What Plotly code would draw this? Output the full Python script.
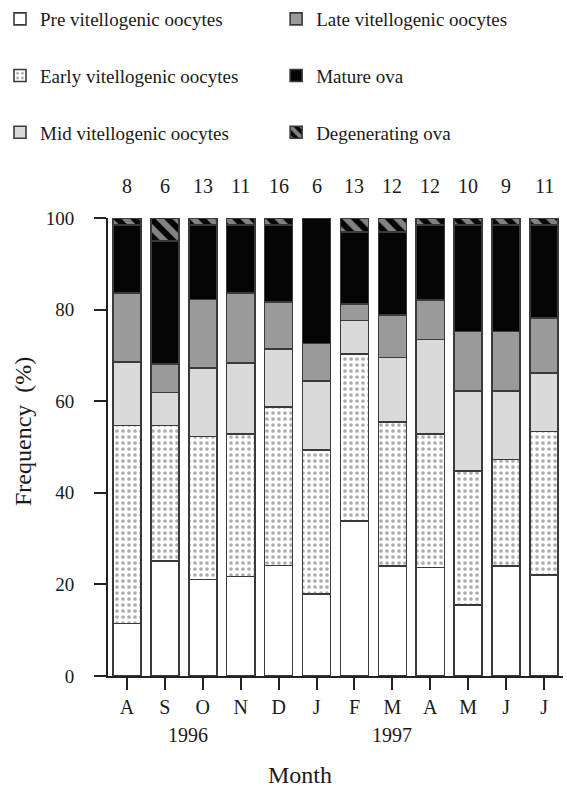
import plotly.graph_objects as go

months = ["A", "S", "O", "N", "D", "J", "F", "M", "A", "M", "J", "J"]
counts = [8, 6, 13, 11, 16, 6, 13, 12, 12, 10, 9, 11]
years = ["1996", "1997"]
year_pos = [1.6, 7.0]

pre = [11.5, 25.1, 21.1, 21.7, 24.1, 17.9, 33.8, 24.0, 23.7, 15.5, 24.0, 22.0]
early = [43.2, 29.6, 31.2, 31.1, 34.7, 31.4, 36.5, 31.5, 29.1, 29.3, 23.3, 31.4]
mid = [13.8, 7.2, 15.0, 15.5, 12.6, 15.1, 7.3, 14.0, 20.7, 17.4, 14.9, 12.7]
late = [15.1, 6.2, 14.9, 15.3, 10.3, 8.2, 3.6, 9.3, 8.6, 13.0, 13.0, 12.1]
mature = [14.9, 26.9, 16.3, 14.9, 16.8, 27.4, 15.8, 18.2, 16.4, 23.3, 23.3, 20.3]
degen = [1.5, 5.0, 1.5, 1.5, 1.5, 0.0, 3.0, 3.0, 1.5, 1.5, 1.5, 1.5]

FONT = "Liberation Serif, Times New Roman, serif"
TXT = "#1a1a1a"
EDGE = "#3a3a3a"
x = list(range(len(months)))

series = [
    ("Pre vitellogenic oocytes", pre, dict(color="white"), "legend"),
    ("Early vitellogenic oocytes", early,
     dict(color="white", pattern=dict(shape=".", fgcolor="#5a5a5a", size=6, solidity=0.3)), "legend"),
    ("Mid vitellogenic oocytes", mid, dict(color="#dadada"), "legend"),
    ("Late vitellogenic oocytes", late, dict(color="#9a9a9a"), "legend2"),
    ("Mature ova", mature, dict(color="#050505"), "legend2"),
    ("Degenerating ova", degen,
     dict(color="#050505", pattern=dict(shape="\\", fgcolor="white", size=12, solidity=0.5)), "legend2"),
]

fig = go.Figure()
for name, vals, marker, leg in series:
    m = dict(marker)
    m["line"] = dict(color=EDGE, width=1.6)
    fig.add_trace(go.Bar(
        x=x, y=vals, name=name, marker=m, legend=leg, legendgroup=name,
        hoverinfo="skip",
    ))

PL, PR, PT, PB = 108, 563, 218, 676
def px_x(p):
    return (p - PL) / (PR - PL)
def px_y(p):
    return (PB - p) / (PB - PT)

for xi, c in zip(x, counts):
    fig.add_annotation(x=xi, y=px_y(186), xref="x", yref="paper", text=str(c),
                       xanchor="center", yanchor="middle",
                       showarrow=False, font=dict(family=FONT, size=20, color=TXT))
for yl, xp in zip(years, year_pos):
    fig.add_annotation(x=xp, y=px_y(735), xref="x", yref="paper", text=yl, showarrow=False,
                       xanchor="center", yanchor="middle",
                       font=dict(family=FONT, size=20, color=TXT))

fig.add_annotation(x=px_x(23), y=px_y(432), xref="paper", yref="paper", text="Frequency  (%)",
                   xanchor="center", yanchor="middle",
                   showarrow=False, textangle=-90, font=dict(family=FONT, size=24, color=TXT))
fig.add_annotation(x=px_x(300), y=px_y(775), xref="paper", yref="paper", text="Month",
                   xanchor="center", yanchor="middle",
                   showarrow=False, font=dict(family=FONT, size=24, color=TXT))

fig.update_layout(
    width=567, height=789,
    margin=dict(l=PL, r=567 - PR, t=PT, b=789 - PB, autoexpand=False),
    paper_bgcolor="white", plot_bgcolor="white",
    barmode="stack", bargap=0.26,
    font=dict(family=FONT, size=19, color=TXT),
    legend=dict(xref="container", yref="container", x=0.0, y=1.0, xanchor="left", yanchor="top",
                orientation="v", tracegroupgap=29, font=dict(family=FONT, size=19, color=TXT),
                bgcolor="rgba(0,0,0,0)", itemclick=False),
    legend2=dict(xref="container", yref="container", x=0.487, y=1.0, xanchor="left", yanchor="top",
                 orientation="v", tracegroupgap=29, font=dict(family=FONT, size=19, color=TXT),
                 bgcolor="rgba(0,0,0,0)", itemclick=False),
    showlegend=True,
)

fig.update_xaxes(
    range=[-0.5, 11.5], tickvals=x, ticktext=months, showgrid=False, zeroline=False,
    showline=True, linecolor="#222", linewidth=2, ticks="outside", ticklen=12, tickwidth=2,
    tickcolor="#222", tickfont=dict(family=FONT, size=20, color=TXT),
)
fig.update_yaxes(
    range=[0, 100], tickvals=[0, 20, 40, 60, 80, 100], showgrid=False, zeroline=False,
    showline=True, linecolor="#222", linewidth=2, ticks="outside", ticklen=12, tickwidth=2,
    tickcolor="#222", tickfont=dict(family=FONT, size=19, color=TXT), ticklabelstandoff=16,
)

fig.write_html("out.html")
